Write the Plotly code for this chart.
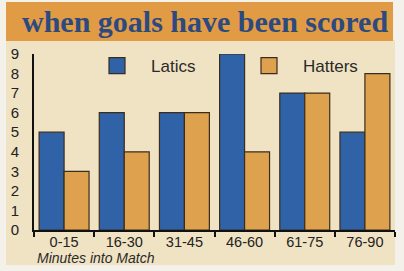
import plotly.graph_objects as go

categories = ["0-15", "16-30", "31-45", "46-60", "61-75", "76-90"]
latics = [5, 6, 6, 9, 7, 5]
hatters = [3, 4, 6, 4, 7, 8]
y_ticks = [0, 1, 2, 3, 4, 5, 6, 7, 8, 9]

BLUE = "#2f62a6"
ORANGE = "#dea24f"
EDGE = "#3a2c1f"
BEIGE = "#f0e3c3"
BAR_BG = "#e29b45"
TITLE_COL = "#2c4a80"

W, H = 404, 271
L, R, T, B = 34, 9, 54, 41
pw, ph = W - L - R, H - T - B

def px(x):
    return (x - L) / pw

def py(y):
    return (H - B - y) / ph

fig = go.Figure()
fig.add_trace(go.Bar(x=categories, y=latics, name="Latics", marker=dict(color=BLUE, line=dict(color=EDGE, width=1.2)), showlegend=False))
fig.add_trace(go.Bar(x=categories, y=hatters, name="Hatters", marker=dict(color=ORANGE, line=dict(color=EDGE, width=1.2)), showlegend=False))
# legend proxies
fig.add_trace(go.Scatter(x=[None], y=[None], mode="markers", name="Latics", legend="legend",
                         marker=dict(symbol="square", size=16, color=BLUE, line=dict(color=EDGE, width=1.2))))
fig.add_trace(go.Scatter(x=[None], y=[None], mode="markers", name="Hatters", legend="legend2",
                         marker=dict(symbol="square", size=16, color=ORANGE, line=dict(color=EDGE, width=1.2))))

leg_common = dict(orientation="h", xanchor="left", yanchor="middle",
                  bgcolor="rgba(0,0,0,0)", font=dict(size=17, color="#2a2a2a"),
                  itemwidth=58, itemclick=False, borderwidth=0)

fig.update_layout(
    width=W, height=H,
    margin=dict(l=L, r=R, t=T, b=B, pad=0),
    paper_bgcolor="#f3f1ea",
    plot_bgcolor="rgba(0,0,0,0)",
    barmode="group",
    bargap=0.17,
    bargroupgap=0,
    font=dict(family="Liberation Sans, Arial, sans-serif", color="#222222"),
    showlegend=True,
    legend=dict(x=px(83), y=py(66), **leg_common),
    legend2=dict(x=px(235), y=py(66), **leg_common),
    xaxis=dict(type="category", showline=True, linecolor="#111111", linewidth=2,
               ticks="outside", tickson="boundaries", ticklen=5, tickwidth=1.5, tickcolor="#111111",
               tickfont=dict(size=14.5, color="#222222"), ticklabelstandoff=-2,
               showgrid=False, zeroline=False, fixedrange=True, automargin=False),
    yaxis=dict(range=[0, 9], tickvals=y_ticks, showline=True, linecolor="#111111", linewidth=2,
               ticks="", tickfont=dict(size=15, color="#222222"), ticklabelstandoff=10,
               showgrid=False, zeroline=False, fixedrange=True, automargin=False),
    shapes=[
        dict(type="rect", xref="paper", yref="paper", x0=px(6), x1=px(395), y0=py(265), y1=py(40),
             fillcolor=BEIGE, line=dict(width=0), layer="below"),
        dict(type="rect", xref="paper", yref="paper", x0=px(6), x1=px(393), y0=py(41), y1=py(2),
             fillcolor=BAR_BG, line=dict(width=0), layer="below"),
    ],
    annotations=[
        dict(text="<b>when goals have been scored</b>", xref="paper", yref="paper", x=px(205), y=py(22),
             xanchor="center", yanchor="middle", showarrow=False,
             font=dict(family="Liberation Serif, Times New Roman, serif", size=30, color=TITLE_COL)),
        dict(text="<i>Minutes into Match</i>", xref="paper", yref="paper", x=px(35), y=py(258),
             xanchor="left", yanchor="middle", showarrow=False,
             font=dict(size=14, color="#2a2a2a")),
    ],
)

fig.write_html("out.html", config={"displayModeBar": False},
               post_script="document.body.style.margin='0';document.body.style.padding='0';")
